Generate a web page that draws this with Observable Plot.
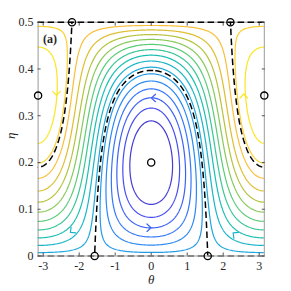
<!DOCTYPE html>
<html>
<head>
<meta charset="utf-8">
<script src="https://cdn.jsdelivr.net/npm/d3@7"></script>
<script src="https://cdn.jsdelivr.net/npm/@observablehq/plot@0.6"></script>
<style>
  html, body { margin: 0; padding: 0; background: #fff; }
  #chart svg { display: block; }
</style>
</head>
<body>
<div id="chart"></div>
<script>
// ---- data ----
const thetaTicks = [-3, -2, -1, 0, 1, 2, 3];
const etaTicks = [0, 0.1, 0.2, 0.3, 0.4, 0.5];
// model coefficients of the streamfunction H = eta(1/2-eta)cos(theta) - b eta^2 - c eta^3
const modelB = [0.22];
const modelC = [0.1];
// contour levels (H values) of the coloured streamlines
const levels = [-0.0766, -0.0693, -0.062, -0.0547, -0.0474, -0.0401, -0.0328, -0.0255,
  -0.0182, -0.0109, -0.0036, 0.0037, 0.011, 0.0183, 0.0256, 0.0329, 0.0402];
const colorRange = [-0.0838, 0.0504];
// fixed points (circles)
const fixedTheta = [0, -3.1416, 3.1416, -1.5708, 1.5708, -2.2, 2.2];
const fixedEta = [0.2, 0.343, 0.343, 0, 0, 0.5, 0.5];
// flow-direction arrows: position, screen angle (deg, clockwise from up), streamline level
const arrowTheta = [0, 0, -2.25, 2.27, -2.63, 2.57];
const arrowEta = [0.338, 0.0605, 0.05, 0.05, 0.343, 0.347];
const arrowAngle = [-90, 90, -129, -51, 180, 0];
const arrowLevel = [0.0256, 0.0256, -0.0109, -0.0109, -0.0766, -0.0766];
// boundaries
const boundaryEta = [0, 0.5];
// parula colour map stops (position, colour), dark violet -> yellow
const parulaPos = [0, 0.127, 0.254, 0.381, 0.508, 0.635, 0.762, 0.825, 0.889, 1];
const parulaCol = ["#3e26a8", "#484df0", "#327cfc", "#20a5e3", "#18bfb5", "#64cd6f", "#d1bf27", "#f8ba3d", "#fccf30", "#f9fb14"];

const b = modelB[0], c = modelC[0];
const H = (t, e) => e * (0.5 - e) * Math.cos(t) - b * e * e - c * e * e * e;
// separatrix through the bottom saddles (H = 0) with the eta = 0 factor removed
const S0 = (t, e) => (0.5 - e) * Math.cos(t) - b * e - c * e * e;
// separatrix through the top saddles (H = H(.,1/2)) with the (1/2 - eta) factor removed
const S1 = (t, e) => e * Math.cos(t) + b * (e + 0.5) + c * (e * e + 0.5 * e + 0.25);

const fixedPts = fixedTheta.map((t, i) => ({t, e: fixedEta[i]}));
const arrows = arrowTheta.map((t, i) => ({t, e: arrowEta[i], a: arrowAngle[i], v: arrowLevel[i]}));

const parulaInterp = d3.scaleLinear().domain(parulaPos).range(parulaCol).interpolate(d3.interpolateRgb).clamp(true);

const chevron = {
  draw(context, l) {
    const w = l * 0.75;
    context.moveTo(-w, l * 0.35);
    context.lineTo(0, -l * 0.45);
    context.lineTo(w, l * 0.35);
  }
};

const ext = {x1: -Math.PI - 0.3, x2: Math.PI + 0.3, y1: -0.03, y2: 0.53};
const font = "Liberation Serif, Times New Roman, serif";
const dash = "6.5,3.5";

const chart = Plot.plot({
  width: 291,
  height: 291,
  marginLeft: 37.6,
  marginRight: 27.2,
  marginTop: 21.7,
  marginBottom: 35.5,
  style: {fontFamily: font, fontSize: "12px", color: "#262626", background: "#fff"},
  x: {domain: [-Math.PI, Math.PI], label: null},
  y: {domain: [0, 0.5], label: null},
  color: {type: "linear", domain: colorRange, interpolate: t => parulaInterp(1 - t)},
  marks: [
    Plot.contour({value: H, ...ext, thresholds: levels, stroke: "value", fill: "none",
      strokeWidth: 1.2, pixelSize: 1, clip: "frame"}),
    Plot.contour({value: S0, ...ext, thresholds: [0], stroke: "black", fill: "none",
      strokeWidth: 1.5, strokeDasharray: dash, pixelSize: 1, clip: "frame"}),
    Plot.contour({value: S1, ...ext, thresholds: [0], stroke: "black", fill: "none",
      strokeWidth: 1.5, strokeDasharray: dash, pixelSize: 1, clip: "frame"}),
    Plot.frame({stroke: "#9a9a9a", strokeWidth: 1}),
    Plot.ruleY(boundaryEta.slice(1), {stroke: "black", strokeWidth: 1.5, strokeDasharray: dash}),
    Plot.ruleY(boundaryEta.slice(0, 1), {stroke: "#707070", strokeWidth: 1.5, strokeDasharray: dash}),
    Plot.axisX({anchor: "bottom", ticks: thetaTicks, tickSize: -3, tickPadding: 8, stroke: "#555", label: null,
      tickFormat: d => String(d)}),
    Plot.axisX({anchor: "top", ticks: thetaTicks, tickSize: -3, stroke: "#555", fill: "none", label: null}),
    Plot.axisY({anchor: "left", ticks: etaTicks, tickSize: -3, tickPadding: 7.5, stroke: "#555", label: null,
      tickFormat: d => d === 0 ? "0" : d.toFixed(1)}),
    Plot.axisY({anchor: "right", ticks: etaTicks, tickSize: -3, stroke: "#555", fill: "none", label: null}),
    Plot.vector(arrows, {x: "t", y: "e", rotate: "a", length: 5, shape: chevron, anchor: "middle",
      stroke: "v", strokeWidth: 1.2}),
    Plot.dot(fixedPts, {x: "t", y: "e", r: 3.6, stroke: "black", strokeWidth: 1.3, fill: "none"}),
    Plot.text(["θ"], {frameAnchor: "bottom", dy: 27.5, fontStyle: "italic", fontSize: 13, fill: "#262626"}),
    Plot.text(["η"], {frameAnchor: "left", dx: -27.6, rotate: -90, fontStyle: "italic", fontSize: 13, fill: "#262626"}),
    Plot.text(["(a)"], {frameAnchor: "top-left", dx: 5, dy: 12, textAnchor: "start", fontSize: 12, fontWeight: "bold", fill: "#262626"})
  ]
});
document.getElementById("chart").appendChild(chart);
</script>
</body>
</html>
